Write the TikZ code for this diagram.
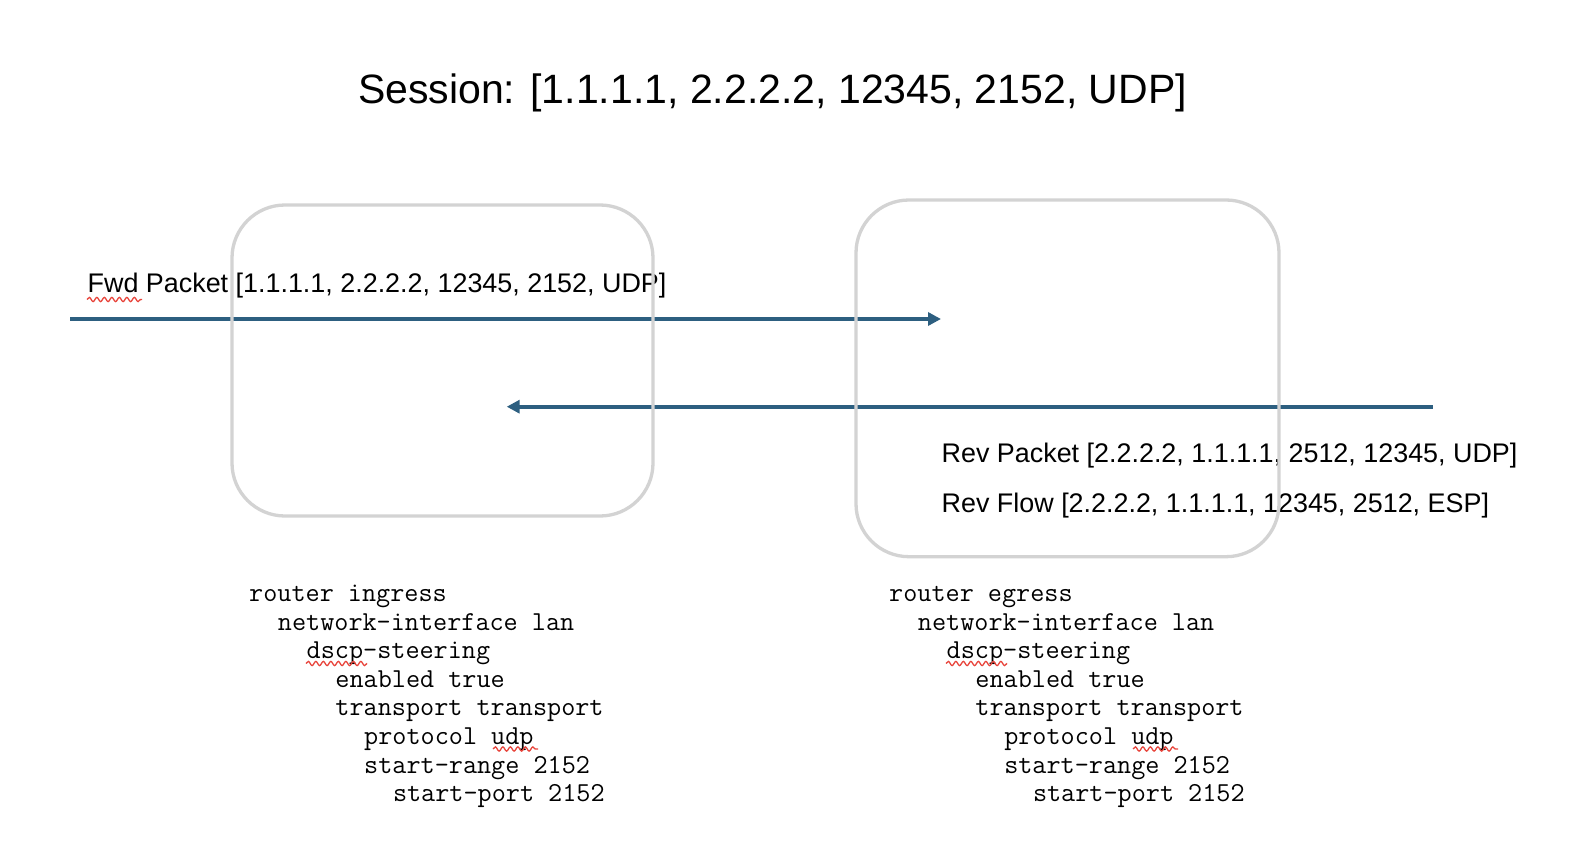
\documentclass[tikz,border=0pt]{standalone}
\usepackage{fontspec}
\setmainfont{Liberation Sans}
\usetikzlibrary{arrows.meta,decorations.pathmorphing}
\definecolor{flowblue}{HTML}{2D5F80}
\definecolor{boxgray}{HTML}{D3D3D3}
\definecolor{spellred}{HTML}{E8453C}
\tikzset{
  routerbox/.style={draw=boxgray, line width=3.3bp, rounded corners=53bp, inner sep=0pt, fill=none},
  flow/.style={draw=flowblue, line width=4bp, -{Triangle[length=13bp,width=13bp]}},
  label/.style={inner sep=0pt, anchor=base west, font=\fontsize{26.9bp}{30bp}\selectfont},
  titletext/.style={inner sep=0pt, anchor=base, font=\fontsize{41bp}{46bp}\selectfont},
  codeline/.style={inner sep=0pt, anchor=base west, font=\ttfamily\fontsize{27.4bp}{30bp}\selectfont},
  squiggle/.style={draw=spellred, line width=1.3bp, decorate, decoration={snake, amplitude=2.1bp, segment length=7.5bp}}
}
\begin{document}
\begin{tikzpicture}[x=1bp,y=-1bp]
\useasboundingbox[fill=white] (0,0) rectangle (1578,860);

% title
\node[titletext] (title) at (772.5,103.5) {Session: [1.1.1.1, 2.2.2.2, 12345, 2152, UDP]};

% labels
\node[label] (fwdlabel) at (87.5,292.5) {Fwd Packet [1.1.1.1, 2.2.2.2, 12345, 2152, UDP]};
\node[label] (revpkt) at (941.5,462.3) {Rev Packet [2.2.2.2, 1.1.1.1, 2512, 12345, UDP]};
\node[label] (revflow) at (941.5,512.3) {Rev Flow [2.2.2.2, 1.1.1.1, 12345, 2512, ESP]};

% arrows
\coordinate (fwdstart) at (70,319);
\coordinate (fwdend) at (941,319);
\coordinate (revstart) at (1432.7,406.7);
\coordinate (revend) at (506.7,406.7);
\draw[flow] (fwdstart) -- (fwdend);
\draw[flow] (revstart) -- (revend);

% config text
\foreach \i/\ind/\txt in {1/0/{router ingress},2/2/{network-interface lan},3/4/{dscp-steering},4/6/{enabled true},5/6/{transport transport},6/8/{protocol udp},7/8/{start-range 2152},8/10/{start-port 2152}}{
  \node[codeline] (ci\i) at ({249+\ind*14.38},{601.7+(\i-1)*28.57}) {\txt};
}
\foreach \i/\ind/\txt in {1/0/{router egress},2/2/{network-interface lan},3/4/{dscp-steering},4/6/{enabled true},5/6/{transport transport},6/8/{protocol udp},7/8/{start-range 2152},8/10/{start-port 2152}}{
  \node[codeline] (ce\i) at ({889+\ind*14.38},{601.7+(\i-1)*28.57}) {\txt};
}

% spell-check marks
\coordinate (sq1a) at (87,299.5);   \coordinate (sq1b) at (142,299.5);
\coordinate (sq2a) at (306,663.5);  \coordinate (sq2b) at (367,663.5);
\coordinate (sq3a) at (493,749);    \coordinate (sq3b) at (538,749);
\coordinate (sq4a) at (946,663.5);  \coordinate (sq4b) at (1007,663.5);
\coordinate (sq5a) at (1133,749);   \coordinate (sq5b) at (1178,749);
\draw[squiggle] (sq1a) -- (sq1b);
\draw[squiggle] (sq2a) -- (sq2b);
\draw[squiggle] (sq3a) -- (sq3b);
\draw[squiggle] (sq4a) -- (sq4b);
\draw[squiggle] (sq5a) -- (sq5b);

% router boxes
\node[routerbox, minimum width=421bp, minimum height=311bp] (ingress) at (442.5,360.5) {};
\node[routerbox, minimum width=423bp, minimum height=356.7bp] (egress) at (1067.5,378.35) {};
\end{tikzpicture}
\end{document}
